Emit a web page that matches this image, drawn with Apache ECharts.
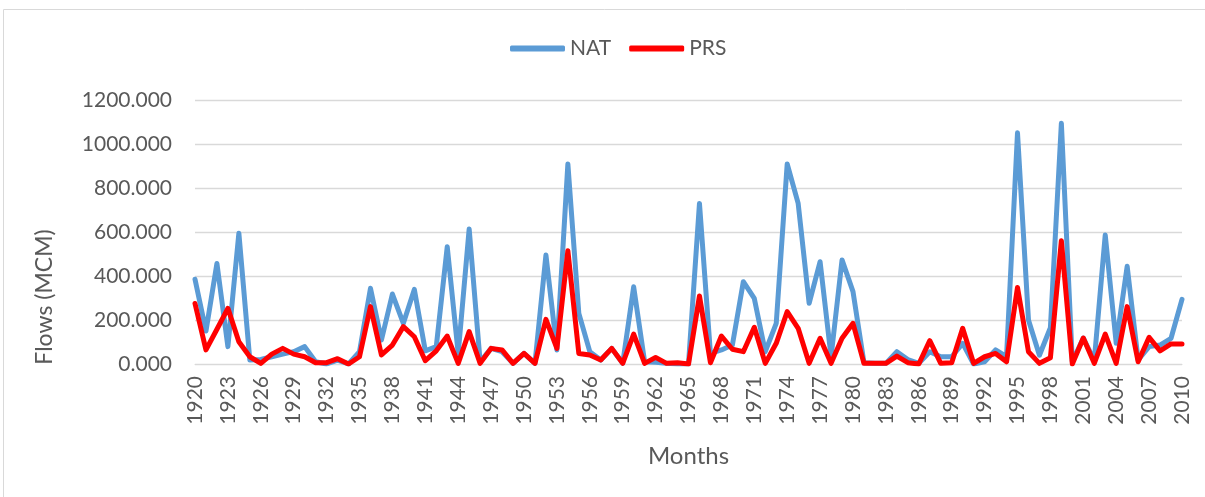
<!DOCTYPE html>
<html>
<head>
<meta charset="utf-8">
<script src="https://cdn.jsdelivr.net/npm/echarts@6/dist/echarts.min.js"></script>
<style>
  html, body { margin: 0; padding: 0; background: #fff; }
  #main { width: 1205px; height: 497px; }
</style>
</head>
<body>
<div id="main"></div>
<script>
// years 1920..2010
var years = [];
for (var y = 1920; y <= 2010; y++) years.push(String(y));

// natural flows (MCM)
var natFlows = [
  385, 150, 457, 79, 594, 18, 21, 33, 45, 56,
  79, 10, 0, 18, 0, 56, 344, 109, 318, 185,
  339, 60, 79, 533, 48, 614, 10, 71, 56, 3,
  48, 3, 495, 64, 909, 230, 56, 18, 71, 3,
  351, 10, 8, 3, 0, 0, 730, 48, 64, 86,
  374, 298, 56, 185, 909, 730, 276, 465, 33, 473,
  329, 6, 3, 3, 56, 20, 3, 56, 33, 33,
  94, 0, 10, 64, 33, 1051, 200, 40, 165, 1094,
  10, 118, 15, 586, 94, 444, 18, 79, 86, 117,
  294
];

// present flows (MCM)
var prsFlows = [
  275, 64, 158, 253, 101, 33, 3, 45, 71, 45,
  33, 6, 6, 24, 0, 33, 261, 41, 86, 170,
  124, 15, 60, 127, 3, 147, 3, 71, 64, 3,
  48, 3, 203, 71, 515, 48, 41, 18, 71, 3,
  136, 3, 30, 3, 6, 0, 309, 6, 127, 67,
  56, 167, 3, 94, 238, 162, 3, 117, 3, 117,
  185, 3, 3, 3, 36, 6, 0, 106, 3, 6,
  162, 3, 33, 48, 10, 348, 56, 3, 28, 560,
  0, 118, 3, 136, 3, 261, 10, 121, 60, 91,
  91
];

var yTicks = [0, 200, 400, 600, 800, 1000, 1200];

var txt = '#595959';
var fontFam = 'Lato, "Open Sans", sans-serif';

var chart = echarts.init(document.getElementById('main'));
var option = {
  animation: false,
  textStyle: { fontFamily: fontFam },
  graphic: [
    {
      type: 'rect',
      shape: { x: 3.5, y: 9.5, width: 1210, height: 500 },
      style: { fill: 'none', stroke: '#D9D9D9', lineWidth: 1 },
      z: -1
    },
    {
      type: 'text',
      x: 45, y: 297,
      rotation: Math.PI / 2,
      style: {
        text: 'Flows (MCM)',
        fill: txt,
        font: '23px ' + fontFam,
        align: 'center',
        verticalAlign: 'middle'
      }
    }
  ],
  legend: {
    top: 33,
    left: 505,
    icon: 'roundRect',
    itemWidth: 55,
    itemHeight: 6,
    itemGap: 18,
    textStyle: { color: txt, fontSize: 21, fontFamily: fontFam },
    data: ['NAT', 'PRS']
  },
  grid: { left: 195, right: 23, top: 100, bottom: 133, containLabel: false },
  xAxis: {
    type: 'category',
    data: years,
    boundaryGap: false,
    name: 'Months',
    nameLocation: 'middle',
    nameGap: 80,
    nameTextStyle: { color: txt, fontSize: 24, fontFamily: fontFam },
    axisLine: { lineStyle: { color: '#D9D9D9', width: 1 } },
    axisTick: { show: false },
    axisLabel: {
      interval: 2,
      rotate: 90,
      margin: 12,
      color: txt,
      fontSize: 21,
      fontFamily: fontFam
    },
    splitLine: { show: false }
  },
  yAxis: {
    type: 'value',
    min: yTicks[0],
    max: yTicks[yTicks.length - 1],
    interval: 200,
    axisLine: { show: false },
    axisTick: { show: false },
    axisLabel: {
      margin: 23,
      color: txt,
      fontSize: 21,
      fontFamily: fontFam,
      formatter: function (v) { return v.toFixed(3); }
    },
    splitLine: { lineStyle: { color: '#D9D9D9', width: 1.3 } }
  },
  series: [
    {
      name: 'NAT',
      type: 'line',
      data: natFlows,
      symbol: 'none',
      itemStyle: { color: '#5B9BD5' },
      lineStyle: { color: '#5B9BD5', width: 5, cap: 'round', join: 'round' }
    },
    {
      name: 'PRS',
      type: 'line',
      data: prsFlows,
      symbol: 'none',
      itemStyle: { color: '#FF0000' },
      lineStyle: { color: '#FF0000', width: 5, cap: 'round', join: 'round' }
    }
  ]
};
chart.setOption(option);
</script>
</body>
</html>
